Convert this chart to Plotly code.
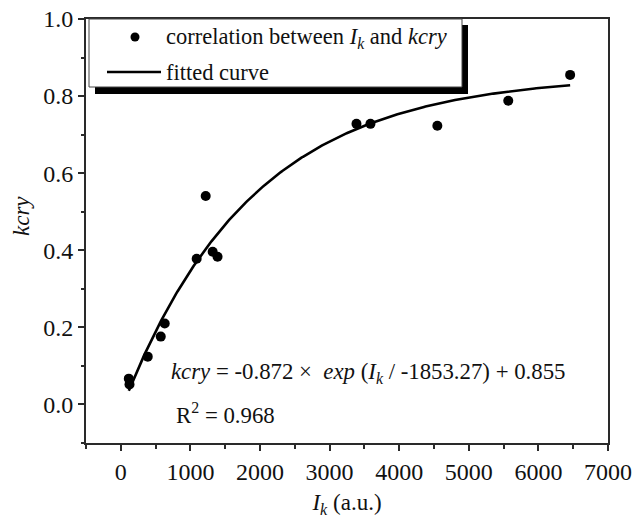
import numpy as np
import plotly.graph_objects as go

# Measured samples: I_k (a.u.) and kcry
ik_values = [115, 125, 387, 574, 631, 1090, 1220, 1320, 1390, 3386, 3587, 4548, 5567, 6456]
kcry_values = [0.067, 0.052, 0.124, 0.176, 0.210, 0.378, 0.541, 0.396, 0.383, 0.728, 0.728, 0.723, 0.788, 0.855]

# Exponential fit parameters: kcry = a * exp(I_k / t) + y0
fit_a = -0.872
fit_t = -1853.27
fit_y0 = 0.855
fit_r2 = 0.968

x_ticks = [0, 1000, 2000, 3000, 4000, 5000, 6000, 7000]
y_ticks = [0.0, 0.2, 0.4, 0.6, 0.8, 1.0]

FONT = "Liberation Serif"
INK = "#111111"
FRAME = "#2a2a2a"

fit_x = np.linspace(min(ik_values), max(ik_values), 300)
fit_y = fit_a * np.exp(fit_x / fit_t) + fit_y0

fig = go.Figure()
fig.add_trace(go.Scatter(
    x=fit_x, y=fit_y, mode="lines",
    line=dict(color="black", width=2.6),
    name="fitted curve", showlegend=False,
))
fig.add_trace(go.Scatter(
    x=ik_values, y=kcry_values, mode="markers",
    marker=dict(color="black", size=10),
    name="correlation", showlegend=False,
))

W, H = 632, 520
L, R, T, B = 86, 24, 19, 77
pw, ph = W - L - R, H - T - B


def px(x):
    return (x - L) / pw


def py(y):
    return (H - B - y) / ph


# Legend box with drop shadow
shapes = [
    dict(type="rect", xref="paper", yref="paper",
         x0=px(95), x1=px(468), y0=py(94), y1=py(25),
         fillcolor="black", line=dict(width=0), layer="above"),
    dict(type="rect", xref="paper", yref="paper",
         x0=px(89), x1=px(462), y0=py(87), y1=py(19),
         fillcolor="white", line=dict(color="#444444", width=1), layer="above"),
    dict(type="circle", xref="paper", yref="paper",
         x0=px(130.5), x1=px(139.5), y0=py(41.5), y1=py(32.5),
         fillcolor="black", line=dict(width=0), layer="above"),
    dict(type="line", xref="paper", yref="paper",
         x0=px(107), x1=px(161), y0=py(72), y1=py(72),
         line=dict(color="black", width=2.6), layer="above"),
]

annotations = [
    dict(xref="paper", yref="paper", x=px(164), y=py(38),
         xanchor="left", yanchor="middle", showarrow=False,
         text="correlation between <i>I</i><sub><i>k</i></sub> and <i>kcry</i>",
         font=dict(family=FONT, size=22.5, color=INK)),
    dict(xref="paper", yref="paper", x=px(164), y=py(72),
         xanchor="left", yanchor="middle", showarrow=False,
         text="fitted curve",
         font=dict(family=FONT, size=22.5, color=INK)),
    dict(xref="paper", yref="paper", x=px(169), y=py(373),
         xanchor="left", yanchor="middle", showarrow=False,
         text=(f"<i>kcry</i> = {fit_a} ×  <i>exp</i> (<i>I</i><sub><i>k</i></sub> / "
               f"{fit_t}) + {fit_y0}"),
         font=dict(family=FONT, size=22.8, color=INK)),
    dict(xref="paper", yref="paper", x=px(174), y=py(413),
         xanchor="left", yanchor="middle", showarrow=False,
         text=f"R<sup>2</sup> = {fit_r2}",
         font=dict(family=FONT, size=22.8, color=INK)),
    dict(xref="paper", yref="paper", x=px(21), y=py(216),
         xanchor="center", yanchor="middle", showarrow=False,
         textangle=-90, text="<i>kcry</i>",
         font=dict(family=FONT, size=23, color=INK)),
]

axis_common = dict(
    showgrid=False, zeroline=False, automargin=False,
    showline=True, linecolor=FRAME, linewidth=2, mirror=True,
    ticks="outside", ticklen=6, tickwidth=1.5, tickcolor=FRAME,
    tickfont=dict(family=FONT, size=24, color=INK),
)

fig.update_layout(
    width=W, height=H,
    margin=dict(l=L, r=R, t=T, b=B, autoexpand=False),
    paper_bgcolor="white", plot_bgcolor="white",
    showlegend=False,
    shapes=shapes,
    annotations=annotations,
    xaxis=dict(
        range=[-500, 7000], tickvals=x_ticks,
        minor=dict(ticks="outside", ticklen=3.5, dtick=500, tick0=-500,
                   tickcolor=FRAME, tickwidth=1.5),
        title=dict(text="<i>I</i><sub><i>k</i></sub> (a.u.)",
                   font=dict(family=FONT, size=23, color=INK), standoff=10),
        **axis_common,
    ),
    yaxis=dict(
        range=[-0.1, 1.0], tickvals=y_ticks, tickformat=".1f",
        minor=dict(ticks="outside", ticklen=3.5, dtick=0.1, tick0=0,
                   tickcolor=FRAME, tickwidth=1.5),
        **axis_common,
    ),
)

fig.write_html("out.html")
